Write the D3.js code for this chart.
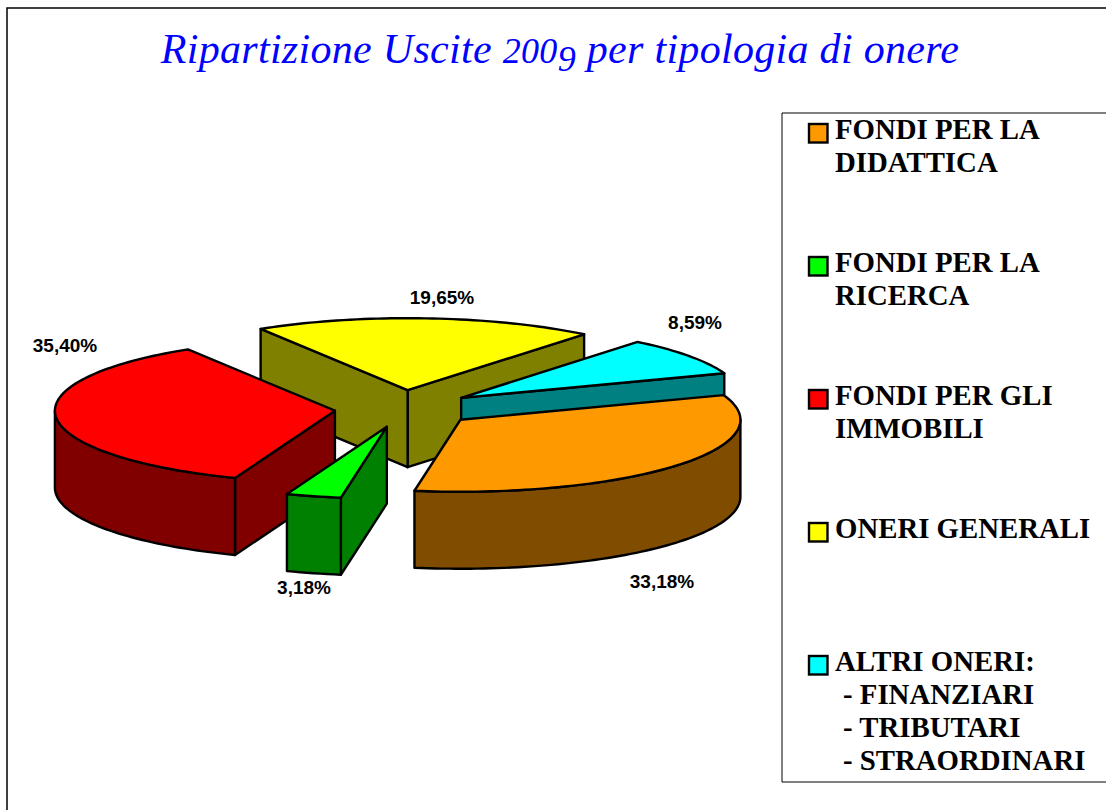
<!DOCTYPE html>
<html>
<head>
<meta charset="utf-8">
<script src="https://cdn.jsdelivr.net/npm/d3@7"></script>
<style>
  body { margin: 0; background: #fff; }
  svg { display: block; }
</style>
</head>
<body>
<div id="drawing"></div>
<script>
const width = 1106;
const height = 810;

// data
const categories = ["FONDI PER LA DIDATTICA", "FONDI PER LA RICERCA", "FONDI PER GLI IMMOBILI", "ONERI GENERALI", "ALTRI ONERI"];
const values = [33.18, 3.18, 35.40, 19.65, 8.59];
const valueLabels = ["33,18%", "3,18%", "35,40%", "19,65%", "8,59%"];
const legendLines = [
  ["FONDI PER LA", "DIDATTICA"],
  ["FONDI PER LA", "RICERCA"],
  ["FONDI PER GLI", "IMMOBILI"],
  ["ONERI GENERALI"],
  ["ALTRI ONERI:", "- FINANZIARI", "- TRIBUTARI", "- STRAORDINARI"]
];

// styles and layout, separate from the values
const topColors = ["#ff9900", "#00ff00", "#ff0000", "#ffff00", "#00ffff"];
const sideColors = ["#804d00", "#008000", "#800000", "#808000", "#008080"];
const labelSpots = [[662, 588], [304, 594], [65, 352], [442, 304], [695, 329]];
const sliceNudge = [[-0.5, 0], [-0.5, 1], [0, 1], [-3, 0.5], [-3, 0.5]];
const drawOrder = [3, 4, 2, 1, 0];
const depth = 77;
const explode = 0.255;

const svg = d3.select("#drawing").append("svg")
  .attr("width", width)
  .attr("height", height)
  .style("background", "#fff");

// slide frame, open on the right and the bottom
svg.append("path")
  .attr("d", "M1106,8H7V810")
  .attr("fill", "none")
  .attr("stroke", "#000")
  .attr("stroke-width", 1.5);

// title, the digits are faked old style
const title = svg.append("text")
  .attr("x", 560)
  .attr("y", 63)
  .attr("text-anchor", "middle")
  .attr("fill", "#0000ff")
  .style("font-family", "'Liberation Serif'")
  .style("font-style", "italic")
  .style("font-size", "42px")
  .style("letter-spacing", "0.3px");
title.append("tspan").text("Ripartizione Uscite ");
title.append("tspan").style("font-size", "36px").text("200");
title.append("tspan").style("font-size", "36px").attr("dy", 8).text("9");
title.append("tspan").attr("dy", -8).text(" per tipologia di onere");

// unit circle -> tilted ellipse on the page
const xScale = d3.scaleLinear().domain([-1, 1]).range([126, 686]);
const yScale = d3.scaleLinear().domain([-1, 1]).range([336, 480]);

const pie = d3.pie()
  .sort(null)
  .startAngle(70 * Math.PI / 180)
  .endAngle(430 * Math.PI / 180);
const slices = pie(values);

const line = d3.line();

function arcPoints(a, b, o, drop) {
  const n = Math.max(2, Math.ceil(Math.abs(b - a) * 40));
  return d3.range(n + 1).map((i) => {
    const t = a + (b - a) * i / n;
    return [xScale(o.x + Math.sin(t)) + o.dx, yScale(o.y - Math.cos(t)) + o.dy + drop];
  });
}

const chart = svg.append("g")
  .attr("stroke", "#000")
  .attr("stroke-width", 2.4)
  .attr("stroke-linejoin", "round");

drawOrder.forEach((i) => {
  const s = slices[i];
  const mid = (s.startAngle + s.endAngle) / 2;
  const o = {
    x: explode * Math.sin(mid),
    y: -explode * Math.cos(mid),
    dx: sliceNudge[i][0],
    dy: sliceNudge[i][1]
  };
  const apex = [xScale(o.x) + o.dx, yScale(o.y) + o.dy];
  const g = chart.append("g");

  // cut faces, only the ones turned to the viewer
  [[s.endAngle, s.endAngle + Math.PI / 2], [s.startAngle, s.startAngle - Math.PI / 2]].forEach(([t, normal]) => {
    if (Math.cos(normal) >= 0) return;
    const r = arcPoints(t, t, o, 0)[0];
    g.append("path")
      .attr("d", line([apex, r, [r[0], r[1] + depth], [apex[0], apex[1] + depth]]) + "Z")
      .attr("fill", sideColors[i]);
  });

  // outer wall, front half of the rim
  const a = Math.max(s.startAngle, Math.PI / 2);
  const b = Math.min(s.endAngle, 3 * Math.PI / 2);
  if (a < b) {
    g.append("path")
      .attr("d", line(arcPoints(a, b, o, 0).concat(arcPoints(b, a, o, depth))) + "Z")
      .attr("fill", sideColors[i]);
  }

  // top
  g.append("path")
    .attr("d", line([apex].concat(arcPoints(s.startAngle, s.endAngle, o, 0))) + "Z")
    .attr("fill", topColors[i]);
});

// value labels
svg.selectAll(".valueLabel")
  .data(valueLabels)
  .enter()
  .append("text")
    .attr("class", "valueLabel")
    .attr("x", (d, i) => labelSpots[i][0])
    .attr("y", (d, i) => labelSpots[i][1])
    .attr("text-anchor", "middle")
    .style("font-family", "'Liberation Sans'")
    .style("font-weight", "bold")
    .style("font-size", "19px")
    .text((d) => d);

// legend
svg.append("path")
  .attr("d", "M1106,113H782V782H1106")
  .attr("fill", "none")
  .attr("stroke", "#000")
  .attr("stroke-width", 1);

const legend = svg.selectAll(".legendItem")
  .data(categories)
  .enter()
  .append("g")
    .attr("class", "legendItem")
    .attr("transform", (d, i) => `translate(0, ${138.5 + i * 133})`);

legend.append("rect")
  .attr("x", 809)
  .attr("y", -14.5)
  .attr("width", 18.5)
  .attr("height", 18.5)
  .attr("fill", (d, i) => topColors[i])
  .attr("stroke", "#000")
  .attr("stroke-width", 2.4);

legend.each(function (d, i) {
  d3.select(this).selectAll("text")
    .data(legendLines[i])
    .enter()
    .append("text")
      .attr("x", (l) => l.startsWith("-") ? 843 : 835)
      .attr("y", (l, j) => j * 33)
      .style("font-family", "'Liberation Serif'")
      .style("font-weight", "bold")
      .style("font-size", "28.8px")
      .text((l) => l);
});
</script>
</body>
</html>
